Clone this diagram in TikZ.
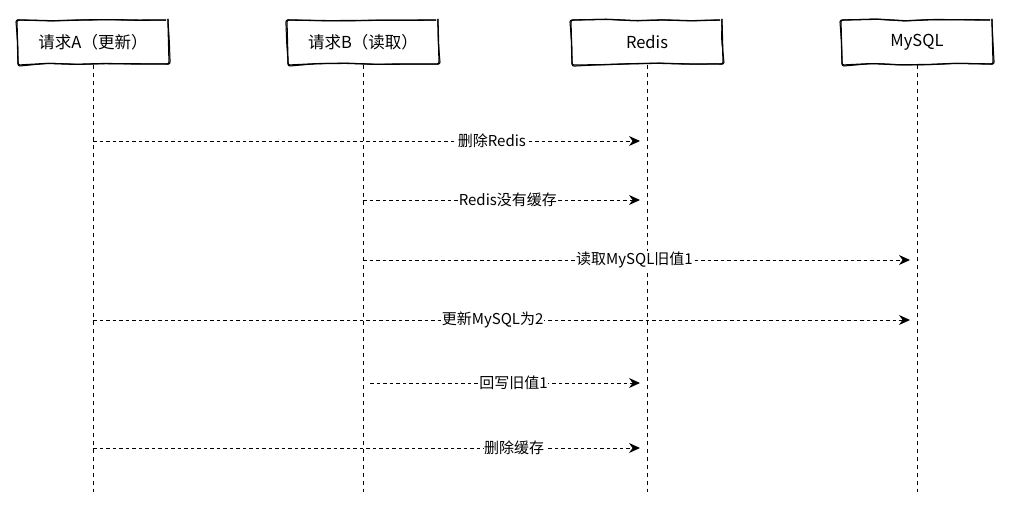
\documentclass[tikz,border=0pt]{standalone}
\usepackage{fontspec}
\setmainfont{Noto Sans CJK SC}
\usetikzlibrary{arrows.meta,decorations.pathmorphing}

\begin{document}
\pgfmathsetseed{7}
\begin{tikzpicture}[x=1pt, y=-1pt,
  actor/.style={draw, line width=1.3pt, rounded corners=2pt, minimum width=150pt, minimum height=44pt, inner sep=0pt, font=\fontsize{16.5}{19}\selectfont,
    decorate, decoration={random steps, segment length=28pt, amplitude=0.8pt},
    postaction={draw, line width=1pt, decorate, decoration={random steps, segment length=22pt, amplitude=1.1pt}}},
  life/.style={line width=1pt, dash pattern=on 4pt off 4pt},
  msg/.style={-{Stealth[length=11pt, width=10pt]}, line width=1pt, dash pattern=on 3.5pt off 3pt, shorten >=7pt},
  lbl/.style={font=\fontsize{15}{17}\selectfont, fill=white, inner sep=0.5pt}
]
\useasboundingbox (0,0) rectangle (1031,522);

% participants
\node[actor] (ra) at (93,42) {请求A（更新）};
\node[actor] (rb) at (363,42) {请求B（读取）};
\node[actor] (redis) at (647,42) {Redis};
\node[actor] (mysql) at (917,42) {MySQL};

% lifelines
\coordinate (bottom) at (0,492);
\draw[life] (ra.south) -- (ra.south |- bottom);
\draw[life] (rb.south) -- (rb.south |- bottom);
\draw[life] (redis.south) -- (redis.south |- bottom);
\draw[life] (mysql.south) -- (mysql.south |- bottom);

% message rows
\coordinate (m1) at (0,141);
\coordinate (m2) at (0,200);
\coordinate (m3) at (0,260);
\coordinate (m4) at (0,320);
\coordinate (m5) at (0,383);
\coordinate (m6) at (0,448);

\draw[msg] (ra |- m1) -- node[lbl, pos=0.72] {删除Redis} (redis |- m1);
\draw[msg] (rb |- m2) -- node[lbl, pos=0.51] {Redis没有缓存} (redis |- m2);
\draw[msg] (rb |- m3) -- node[lbl, pos=0.49] {读取MySQL旧值1} (mysql |- m3);
\draw[msg] (ra |- m4) -- node[lbl, pos=0.485] {更新MySQL为2} (mysql |- m4);
\draw[msg, shorten <=7pt] (rb |- m5) -- node[lbl, pos=0.53] {回写旧值1} (redis |- m5);
\draw[msg] (ra |- m6) -- node[lbl, pos=0.76] {删除缓存} (redis |- m6);

\end{tikzpicture}
\end{document}
